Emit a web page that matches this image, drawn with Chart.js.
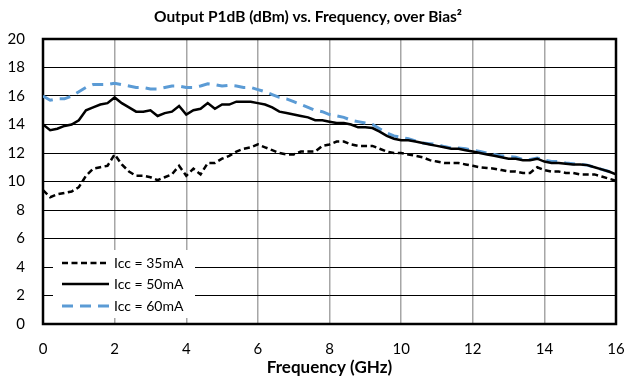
<!DOCTYPE html>
<html><head><meta charset="utf-8">
<script src="https://cdn.jsdelivr.net/npm/chart.js@4/dist/chart.umd.min.js"></script>
<style>html,body{margin:0;padding:0;background:#fff}#wrap{width:629px;height:379px}</style>
</head><body><div id="wrap"><canvas id="c" width="629" height="379"></canvas></div>
<script>
const freqGHz = [0,0.2,0.4,0.6,0.8,1,1.2,1.4,1.6,1.8,2,2.2,2.4,2.6,2.8,3,3.2,3.4,3.6,3.8,4,4.2,4.4,4.6,4.8,5,5.2,5.4,5.6,5.8,6,6.2,6.4,6.6,6.8,7,7.2,7.4,7.6,7.8,8,8.2,8.4,8.6,8.8,9,9.2,9.4,9.6,9.8,10,10.2,10.4,10.6,10.8,11,11.2,11.4,11.6,11.8,12,12.2,12.4,12.6,12.8,13,13.2,13.4,13.6,13.8,14,14.2,14.4,14.6,14.8,15,15.2,15.4,15.6,15.8,16];
const p1dB_35mA = [9.4,8.9,9.1,9.2,9.3,9.6,10.4,10.9,11.0,11.1,11.9,11.2,10.7,10.4,10.4,10.3,10.1,10.3,10.5,11.1,10.4,10.9,10.5,11.3,11.3,11.6,11.8,12.1,12.3,12.4,12.6,12.4,12.2,12.0,11.9,11.9,12.1,12.1,12.1,12.5,12.6,12.8,12.8,12.6,12.5,12.5,12.5,12.3,12.1,12.0,12.0,11.9,11.8,11.7,11.5,11.4,11.3,11.3,11.3,11.2,11.1,11.0,10.95,10.9,10.8,10.7,10.7,10.6,10.6,11.0,10.8,10.7,10.7,10.6,10.6,10.5,10.5,10.5,10.35,10.2,10.05];
const p1dB_50mA = [14.0,13.6,13.7,13.9,14.0,14.3,15.0,15.2,15.4,15.5,15.9,15.5,15.2,14.9,14.9,15.0,14.6,14.8,14.9,15.3,14.7,15.0,15.1,15.5,15.1,15.4,15.4,15.6,15.6,15.6,15.5,15.4,15.2,14.9,14.8,14.7,14.6,14.5,14.3,14.3,14.2,14.1,14.1,14.0,13.8,13.8,13.75,13.5,13.2,13.0,12.9,12.9,12.8,12.7,12.6,12.5,12.4,12.3,12.3,12.2,12.1,12.0,11.9,11.8,11.7,11.6,11.6,11.5,11.5,11.6,11.4,11.3,11.3,11.25,11.2,11.2,11.15,11.0,10.85,10.7,10.5];
const p1dB_60mA = [16.0,15.7,15.8,15.8,16.0,16.3,16.6,16.8,16.8,16.8,16.9,16.8,16.7,16.6,16.6,16.5,16.5,16.6,16.7,16.7,16.6,16.6,16.7,16.85,16.8,16.7,16.75,16.7,16.6,16.6,16.45,16.3,16.1,15.9,15.8,15.6,15.4,15.2,15.0,14.9,14.7,14.6,14.5,14.3,14.2,14.1,14.0,13.7,13.4,13.2,13.1,13.0,12.85,12.7,12.65,12.6,12.45,12.35,12.35,12.3,12.2,12.1,12.0,11.9,11.8,11.75,11.7,11.55,11.55,11.65,11.5,11.4,11.4,11.3,11.25,11.2,11.15,11.0,10.85,10.7,10.5];
const seriesLabels = ['Icc = 35mA','Icc = 50mA','Icc = 60mA'];
const xTicks = [0,2,4,6,8,10,12,14,16];
const yTicks = [0,2,4,6,8,10,12,14,16,18,20];

const FONT = "Lato, 'Liberation Sans', sans-serif";
const pts = arr => freqGHz.map((f,i)=>({x:f,y:arr[i]}));

const framePlugin = {
  id:'frame',
  beforeDatasetsDraw(chart){
    const {ctx, chartArea:a} = chart;
    ctx.save();
    ctx.strokeStyle='#000'; ctx.lineWidth=2.5;
    ctx.strokeRect(a.left, a.top, a.right-a.left, a.bottom-a.top);
    ctx.restore();
  }
};
const legendPlugin = {
  id:'insideLegend',
  afterDatasetsDraw(chart){
    const {ctx, chartArea:a} = chart;
    ctx.save();
    ctx.fillStyle='#fff';
    ctx.fillRect(a.left+10, 250, 142, 68);
    const rows=[263,284,306];
    chart.data.datasets.forEach((ds,i)=>{
      ctx.strokeStyle=ds.borderColor; ctx.lineWidth=ds.borderWidth;
      ctx.setLineDash(ds.borderDash||[]);
      ctx.beginPath(); ctx.moveTo(a.left+19, rows[i]); ctx.lineTo(a.left+66, rows[i]); ctx.stroke();
      ctx.setLineDash([]);
      ctx.fillStyle='#000'; ctx.font='14px '+FONT; ctx.textBaseline='middle'; ctx.textAlign='left';
      ctx.fillText(ds.label, a.left+71, rows[i]);
    });
    ctx.restore();
  }
};

new Chart(document.getElementById('c'), {
  type:'line',
  data:{datasets:[
    {label:seriesLabels[0], data:pts(p1dB_35mA), borderColor:'#000', borderWidth:2.5, borderDash:[6,3.5], pointRadius:0, tension:0, fill:false},
    {label:seriesLabels[1], data:pts(p1dB_50mA), borderColor:'#000', borderWidth:2.5, pointRadius:0, tension:0, fill:false},
    {label:seriesLabels[2], data:pts(p1dB_60mA), borderColor:'#5B9BD5', borderWidth:3, borderDash:[11,7], pointRadius:0, tension:0, fill:false}
  ]},
  options:{
    responsive:false, animation:false, devicePixelRatio:1,
    layout:{padding:{left:0,right:13,top:0,bottom:0}},
    plugins:{
      legend:{display:false}, tooltip:{enabled:false},
      title:{display:true, text:'Output P1dB (dBm) vs. Frequency, over Bias²', color:'#000',
        font:{family:FONT, size:15.5, weight:'bold', lineHeight:1.2}, padding:{top:8,bottom:12.4}}
    },
    scales:{
      x:{type:'linear', min:0, max:16,
        afterBuildTicks(s){ s.ticks = xTicks.map(v=>({value:v})); },
        afterFit(s){ s.height = 55; s.paddingLeft = 0; s.paddingRight = 0; },
        grid:{color:'#a6a6a6', lineWidth:1.5, drawTicks:false},
        border:{display:false},
        ticks:{color:'#000', padding:16, font:{family:FONT, size:15}, maxRotation:0},
        title:{display:true, text:'Frequency (GHz)', color:'#000', font:{family:FONT, size:17, weight:'bold'}, padding:{top:0,bottom:1}}
      },
      y:{min:0, max:20,
        afterBuildTicks(s){ s.ticks = yTicks.map(v=>({value:v})); },
        afterFit(s){ s.width = 43; s.paddingTop = 0; s.paddingBottom = 0; },
        grid:{color:'#000', lineWidth:1, drawTicks:false},
        border:{display:false},
        ticks:{color:'#000', padding:18, font:{family:FONT, size:15}}
      }
    }
  },
  plugins:[framePlugin, legendPlugin]
});
</script></body></html>
